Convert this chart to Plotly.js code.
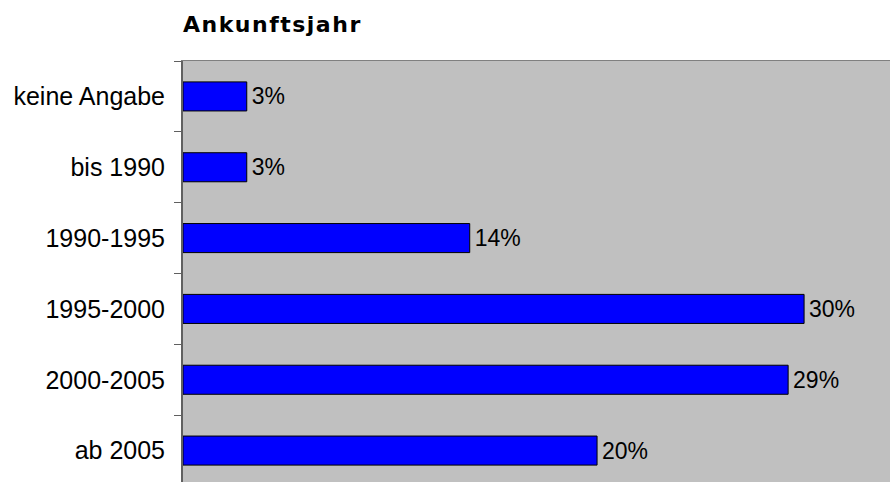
<!DOCTYPE html>
<html>
<head>
<meta charset="utf-8">
<script src="https://cdn.plot.ly/plotly-3.0.1.min.js"></script>
<style>
html, body { margin: 0; padding: 0; overflow: hidden; background: #fff; }
#chart { width: 890px; height: 486px; }
.gtitle { letter-spacing: 1.5px; }
</style>
</head>
<body>
<div id="chart"></div>
<script>
var categories = ["keine Angabe", "bis 1990", "1990-1995", "1995-2000", "2000-2005", "ab 2005"];
var values = [3.08, 3.08, 13.85, 30.0, 29.23, 20.0];
var valueLabels = ["3%", "3%", "14%", "30%", "29%", "20%"];

var trace = {
  type: "bar",
  orientation: "h",
  y: categories,
  x: values,
  text: valueLabels,
  texttemplate: "\u200A%{text}",
  textposition: "outside",
  cliponaxis: false,
  textfont: { family: "Liberation Sans, Arial, sans-serif", size: 23, color: "#000" },
  marker: { color: "#0000FF", line: { color: "#000000", width: 1 } },
  width: 0.41,
  hoverinfo: "none"
};

var layout = {
  width: 890,
  height: 486,
  margin: { l: 183, r: 0, t: 61, b: 0 },
  paper_bgcolor: "#FFFFFF",
  plot_bgcolor: "#C0C0C0",
  showlegend: false,
  title: {
    text: "<b>Ankunftsjahr</b>",
    font: { family: "DejaVu Sans, sans-serif", size: 22, color: "#000" },
    xref: "container", yref: "container",
    x: 183 / 890, xanchor: "left",
    y: 1 - 24 / 486, yanchor: "middle"
  },
  xaxis: {
    range: [0, 34.15],
    showticklabels: false,
    showgrid: false,
    zeroline: false,
    ticks: "",
    showline: true,
    mirror: true,
    linecolor: "#808080",
    linewidth: 1
  },
  yaxis: {
    type: "category",
    autorange: "reversed",
    showgrid: false,
    zeroline: false,
    showline: true,
    linecolor: "#606060",
    linewidth: 2,
    ticks: "outside",
    tickson: "boundaries",
    ticklen: 7,
    tickwidth: 1,
    tickcolor: "#606060",
    ticklabelstandoff: 11,
    tickfont: { family: "Liberation Sans, Arial, sans-serif", size: 25, color: "#000" }
  }
};

Plotly.newPlot("chart", [trace], layout, { displayModeBar: false, staticPlot: true });
</script>
</body>
</html>
